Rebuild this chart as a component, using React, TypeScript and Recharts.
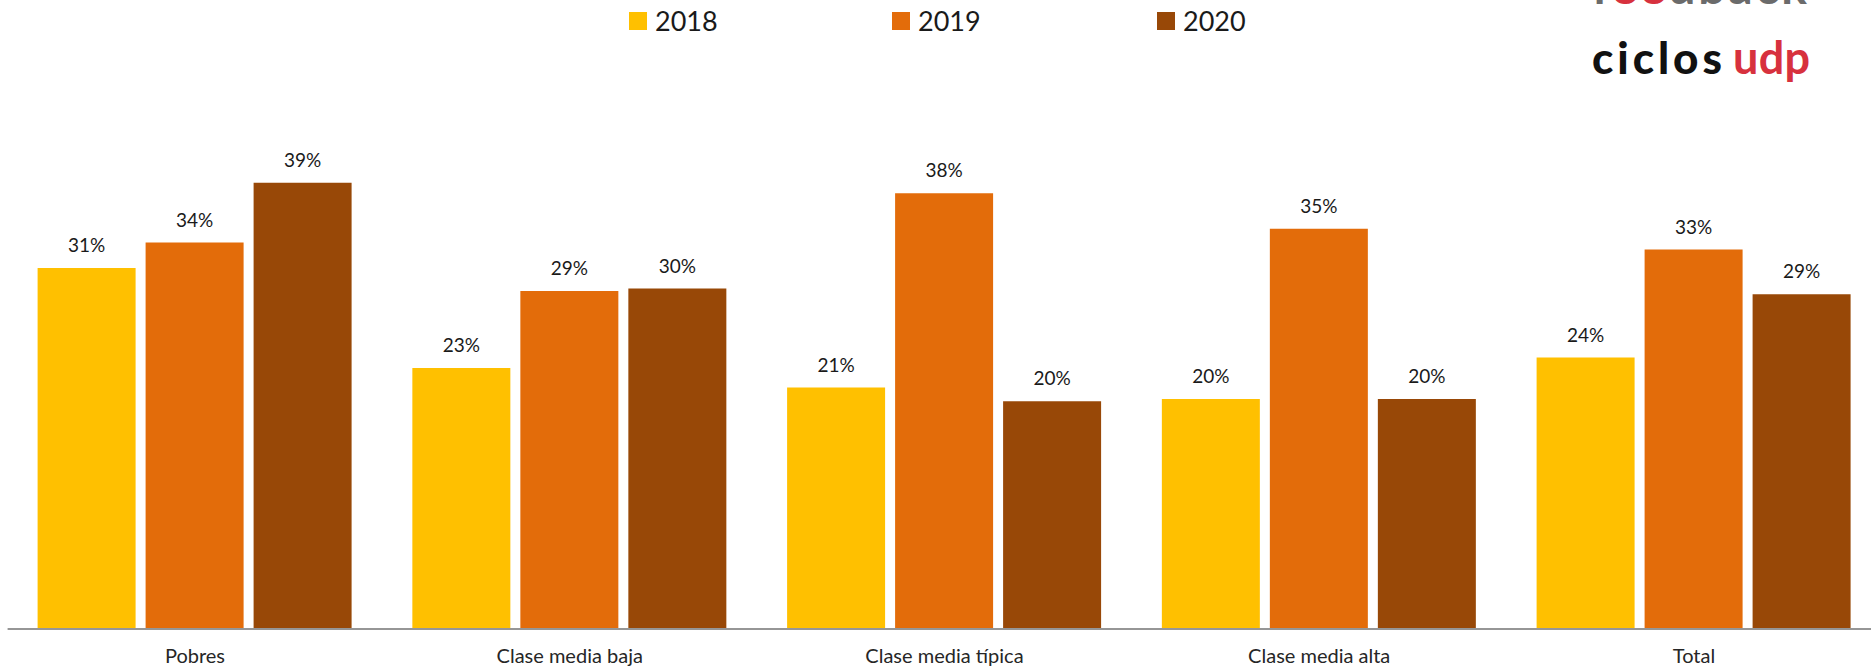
import React from "react";
import { BarChart, Bar, XAxis, YAxis, LabelList } from "recharts";

const categories = ["Pobres", "Clase media baja", "Clase media típica", "Clase media alta", "Total"];
const values2018 = [31.4, 22.7, 21.0, 20.0, 23.6];
const values2019 = [33.6, 29.4, 37.9, 34.8, 33.0];
const values2020 = [38.8, 29.6, 19.8, 20.0, 29.1];
const seriesNames = ["2018", "2019", "2020"];
const seriesColors = ["#FFC000", "#E36C0A", "#984807"];

const data = categories.map((c, i) => ({
  name: c,
  "2018": values2018[i],
  "2019": values2019[i],
  "2020": values2020[i],
}));

const FONT = "Lato, 'Open Sans', sans-serif";

const Tick = (props: any) => {
  const { x, y, payload } = props;
  return (
    <text x={x} y={y + 26} textAnchor="middle" fill="#262626" fontSize={20} fontFamily={FONT}>
      {payload.value}
    </text>
  );
};

const legendLeft = [629, 892, 1157];

export default function App() {
  return (
    <div
      style={{
        position: "absolute",
        left: 0,
        top: 0,
        width: 1871,
        height: 667,
        overflow: "hidden",
        background: "#fff",
        fontFamily: FONT,
      }}
    >
      <div style={{ position: "absolute", left: 0, top: 0 }}>
        <BarChart
          width={1890}
          height={667}
          data={data}
          margin={{ top: 54, right: 8.65, left: 7.6, bottom: 8 }}
          barCategoryGap={30}
          barGap={10}
        >
          <XAxis
            dataKey="name"
            height={30}
            tickLine={false}
            axisLine={{ stroke: "#969696", strokeWidth: 2 }}
            tick={<Tick />}
            interval={0}
          />
          <YAxis hide domain={[0, 50]} />
          {seriesNames.map((s, i) => (
            <Bar key={s} dataKey={s} fill={seriesColors[i]} isAnimationActive={false}>
              <LabelList
                dataKey={s}
                position="top"
                offset={16}
                fill="#1a1a1a"
                fontSize={19}
                fontFamily={FONT}
                formatter={(v: any) => `${Math.round(Number(v))}%`}
              />
            </Bar>
          ))}
        </BarChart>
      </div>

      {seriesNames.map((s, i) => (
        <div
          key={s}
          style={{
            position: "absolute",
            left: legendLeft[i],
            top: 12,
            height: 18,
            display: "flex",
            alignItems: "center",
            whiteSpace: "nowrap",
          }}
        >
          <div style={{ width: 18, height: 18, background: seriesColors[i] }} />
          <span style={{ marginLeft: 8, fontSize: 27, color: "#1a1a1a", lineHeight: "18px" }}>{s}</span>
        </div>
      ))}

      <svg
        width={300}
        height={100}
        style={{ position: "absolute", left: 1571, top: 0, overflow: "hidden" }}
      >
        <text x={21} y={4} fontSize={48} fontFamily={FONT} fontWeight={700} textLength={215}>
          <tspan fill="#6b6b6b">f</tspan>
          <tspan fill="#d7313e">ee</tspan>
          <tspan fill="#6b6b6b">dback</tspan>
        </text>
        <text x={21} y={74} fontSize={44} fontFamily={FONT} fontWeight={900} fill="#111" textLength={130}>
          ciclos
        </text>
        <text x={162} y={74} fontSize={45} fontFamily={FONT} fontWeight={700} fill="#d7313e" textLength={77}>
          udp
        </text>
      </svg>
    </div>
  );
}
